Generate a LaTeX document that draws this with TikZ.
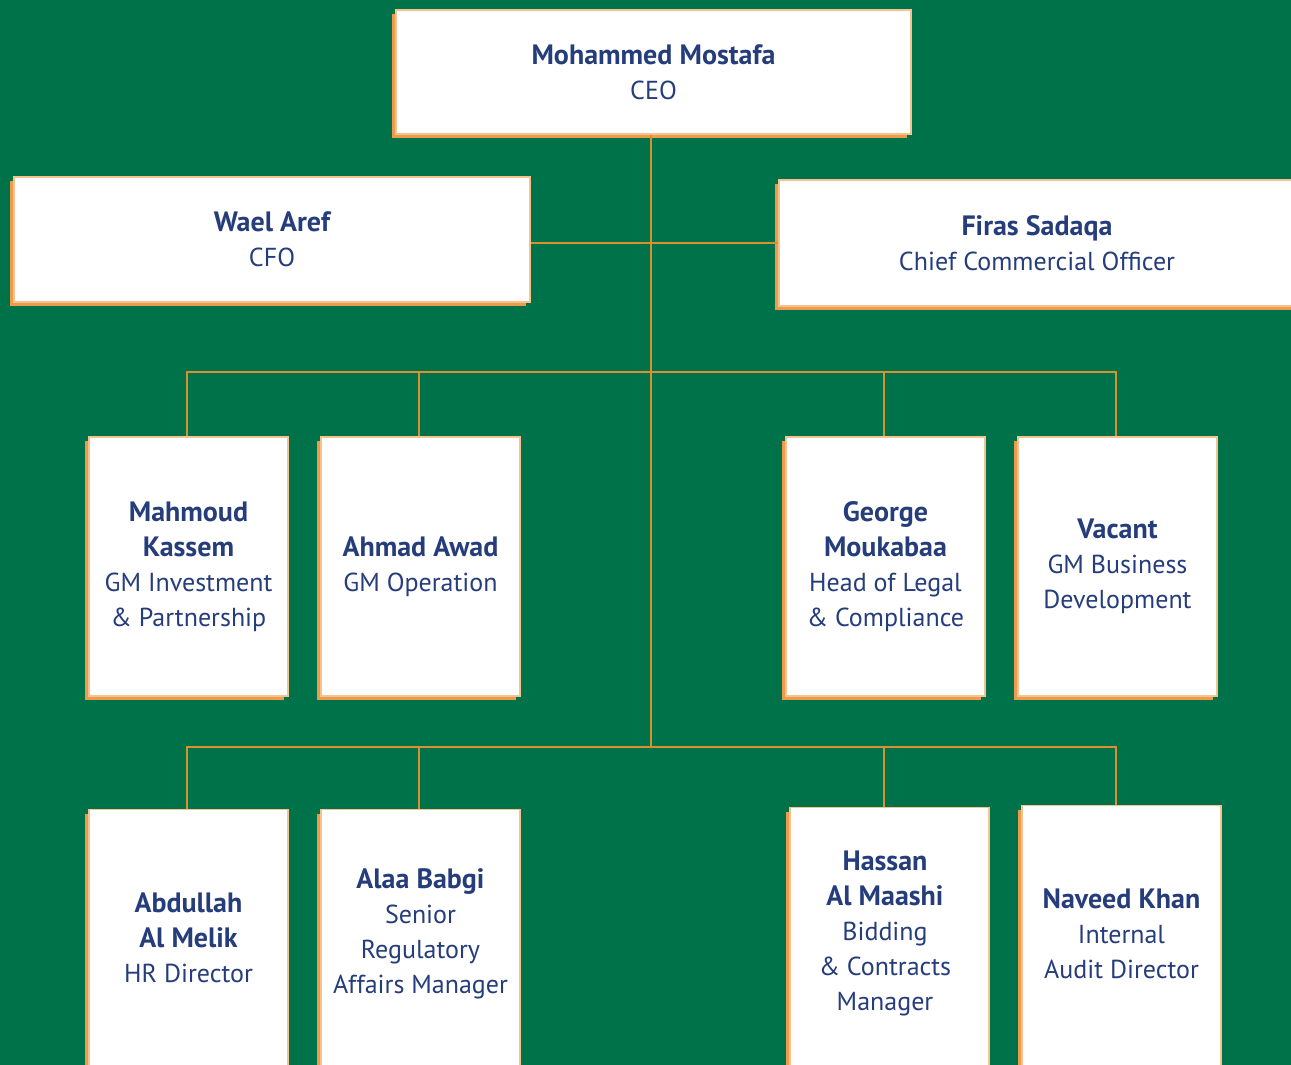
\documentclass[tikz,border=0pt]{standalone}
\usepackage{fontspec}
\setmainfont{PT Sans}
\usetikzlibrary{shadows}
\definecolor{bggreen}{HTML}{007249}
\definecolor{navy}{HTML}{263D7C}
\definecolor{shadoworange}{HTML}{EE9B4E}
\definecolor{edgeorange}{HTML}{F5C48E}
\definecolor{connorange}{HTML}{D9902F}
\newcommand{\nm}[1]{{\fontsize{28}{35}\selectfont\bfseries #1}}
\tikzset{
  orgbox/.style={draw=edgeorange, line width=1.2pt, fill=white, inner sep=0pt,
    align=center, text=navy, font=\fontsize{26}{35}\selectfont,
    drop shadow={shadow xshift=-4pt, shadow yshift=-4pt, opacity=1, fill=shadoworange}},
  txt/.style={align=center, text=navy, inner sep=0pt, font=\fontsize{26}{35}\selectfont},
  conn/.style={draw=connorange, line width=1.3pt}
}
\begin{document}
\begin{tikzpicture}[x=1pt,y=-1pt]
\fill[bggreen] (0,0) rectangle (1291,1065);
\useasboundingbox (0,0) rectangle (1291,1065);
\clip (0,0) rectangle (1291,1065);
% top level
\node[orgbox, minimum width=515pt, minimum height=124pt] (ceo) at (653.5,72) {\nm{Mohammed Mostafa}\\CEO};
\node[orgbox, minimum width=516pt, minimum height=125pt] (cfo) at (272,239.5) {\nm{Wael Aref}\\CFO};
\node[orgbox, minimum width=516pt, minimum height=126pt] (cco) at (1037,243) {\nm{Firas Sadaqa}\\Chief Commercial Officer};
% row 2
\node[orgbox, minimum width=199pt, minimum height=259pt] (mk) at (188.5,566.5) {\nm{Mahmoud}\\\nm{Kassem}\\GM Investment\\\& Partnership};
\node[orgbox, minimum width=199pt, minimum height=259pt] (aa) at (420.5,566.5) {\nm{Ahmad Awad}\\GM Operation};
\node[orgbox, minimum width=199pt, minimum height=259pt] (gm) at (885.5,566.5) {\nm{George}\\\nm{Moukabaa}\\Head of Legal\\\& Compliance};
\node[orgbox, minimum width=199pt, minimum height=259pt] (vac) at (1117.5,566.5) {\nm{Vacant}\\GM Business\\Development};
% row 3 boxes
\node[orgbox, anchor=north, minimum width=199pt, minimum height=280pt] (abd) at (188.5,809) {};
\node[orgbox, anchor=north, minimum width=199pt, minimum height=280pt] (ab) at (420.5,809) {};
\node[orgbox, anchor=north, minimum width=199pt, minimum height=280pt] (ham) at (889.5,807) {};
\node[orgbox, anchor=north, minimum width=199pt, minimum height=280pt] (nk) at (1121.5,805) {};
\node[txt] (abdt) at (188.5,938) {\nm{Abdullah}\\\nm{Al Melik}\\HR Director};
\node[txt] (abt) at (420.5,934) {\nm{Alaa Babgi}\\Senior\\Regulatory\\Affairs Manager};
\node[txt] (hamt) at (885,933.5) {\nm{Hassan}\\\nm{Al Maashi}\\Bidding\\\& Contracts\\Manager};
\node[txt] (nkt) at (1121.5,933.5) {\nm{Naveed Khan}\\Internal\\Audit Director};
% connector coordinates
\coordinate (ja) at (651,243);
\coordinate (b1a) at (187,372);
\coordinate (b1b) at (419,372);
\coordinate (b1c) at (651,372);
\coordinate (b1d) at (884,372);
\coordinate (b1e) at (1116,372);
\coordinate (b2a) at (187,747);
\coordinate (b2b) at (419,747);
\coordinate (b2c) at (651,747);
\coordinate (b2d) at (884,747);
\coordinate (b2e) at (1116,747);
% connectors
\draw[conn] (ceo.south -| b1c) -- (b2c);
\draw[conn] (cfo.east |- ja) -- (cco.west |- ja);
\draw[conn] (mk.north -| b1a) -- (b1a) -- (b1e) -- (vac.north -| b1e);
\draw[conn] (aa.north -| b1b) -- (b1b);
\draw[conn] (gm.north -| b1d) -- (b1d);
\draw[conn] (abd.north -| b2a) -- (b2a) -- (b2e) -- (nk.north -| b2e);
\draw[conn] (ab.north -| b2b) -- (b2b);
\draw[conn] (ham.north -| b2d) -- (b2d);
\end{tikzpicture}
\end{document}
